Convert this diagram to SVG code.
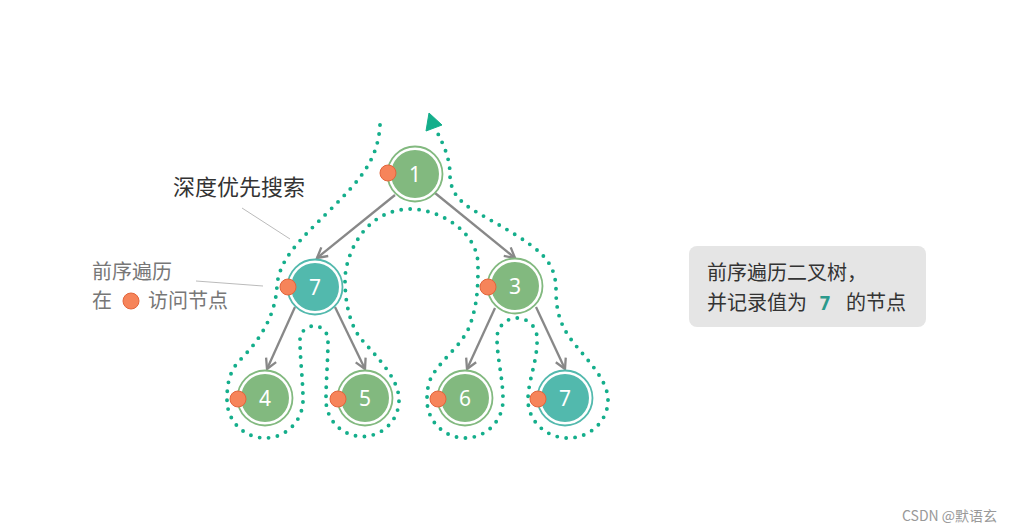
<svg xmlns="http://www.w3.org/2000/svg" width="1016" height="532" viewBox="0 0 1016 532">
<defs>
<style>
.ring-g{fill:#fff;stroke:#82b97f;stroke-width:1.8}
.fill-g{fill:#82b97f}
.ring-t{fill:#fff;stroke:#52b9ad;stroke-width:1.8}
.fill-t{fill:#52b9ad}
.num{font-family:"Noto Sans","Open Sans",sans-serif;font-size:21px;fill:#fff;text-anchor:middle}
.visit{fill:#f6845a;stroke:#e3653c;stroke-width:1}
.edge{stroke:#888;stroke-width:2.3;fill:none}
.cjk{font-family:"Noto Sans CJK SC",sans-serif}
.lead{stroke:#bbb;stroke-width:1;fill:none}
</style>
<marker id="arr" viewBox="-12 -7 14 14" markerWidth="14" markerHeight="14" refX="0" refY="0" orient="auto" markerUnits="userSpaceOnUse">
<path d="M-10,-5.5 L0,0 L-10,5.5" fill="none" stroke="#888" stroke-width="2.3" stroke-linejoin="miter"/>
</marker>
</defs>
<rect width="1016" height="532" fill="#fff"/>

<g id="connectors">
<line class="edge" x1="395" y1="195" x2="317" y2="258" marker-end="url(#arr)"/>
<line class="edge" x1="435" y1="193" x2="515" y2="258" marker-end="url(#arr)"/>
<line class="edge" x1="295" y1="307" x2="267" y2="369" marker-end="url(#arr)"/>
<line class="edge" x1="335" y1="307" x2="365" y2="369" marker-end="url(#arr)"/>
<line class="edge" x1="495" y1="308" x2="467" y2="369" marker-end="url(#arr)"/>
<line class="edge" x1="536" y1="307" x2="565" y2="369" marker-end="url(#arr)"/>
</g>

<g id="traversal">
<path d="M380,125 C378,160 360,180 330,210 C300,240 280,258 277,285 C276,315 260,340 240,360 C228,372 227,388 227,400 A38,38 0 0 0 303,400 C303,380 300,360 300,340 A14,14 0 0 1 328,340 C328,360 326,380 326,400 A36.5,36.5 0 0 0 399,400 C399,378 375,355 362,340 C349,325 345,300 345,280 C345,258 362,210 410,209 C440,209 478,232 478,265 C478,290 477,305 470,325 C463,345 440,360 431,378 C428,384 427,392 427,400 A38,38 0 0 0 503,400 C503,378 497,358 497,338 A20,20 0 0 1 537,338 C538,360 528,380 528,400 A40,38 0 0 0 608,400 C608,378 582,355 570,338 C560,324 556,310 556,290 C556,270 548,258 532,246 C512,231 482,216 470,208 C458,200 450,190 450,175 C450,160 445,147 436,130" fill="none" stroke="#14ae8b" stroke-width="3.9" stroke-linecap="round" stroke-dasharray="0 9"/>
<polygon points="429,113 426,131 442,125" fill="#14ae8b" stroke="#14ae8b" stroke-width="1" stroke-linejoin="round"/>
</g>

<g id="node-1">
<circle class="ring-g" cx="415" cy="174" r="27.5"/>
<circle class="fill-g" cx="415" cy="174" r="24"/>
<text class="num" x="415" y="181.5">1</text>
<circle class="visit" cx="388" cy="173" r="8"/>
</g>
<g id="node-7a">
<circle class="ring-t" cx="315" cy="287" r="27.5"/>
<circle class="fill-t" cx="315" cy="287" r="24"/>
<text class="num" x="315" y="294.5">7</text>
<circle class="visit" cx="288" cy="287" r="8"/>
</g>
<g id="node-3">
<circle class="ring-g" cx="515" cy="286" r="27.5"/>
<circle class="fill-g" cx="515" cy="286" r="24"/>
<text class="num" x="515" y="293.5">3</text>
<circle class="visit" cx="488" cy="287" r="8"/>
</g>
<g id="node-4">
<circle class="ring-g" cx="265" cy="398" r="27.5"/>
<circle class="fill-g" cx="265" cy="398" r="24"/>
<text class="num" x="265" y="405.5">4</text>
<circle class="visit" cx="238" cy="399" r="8"/>
</g>
<g id="node-5">
<circle class="ring-g" cx="365" cy="398" r="27.5"/>
<circle class="fill-g" cx="365" cy="398" r="24"/>
<text class="num" x="365" y="405.5">5</text>
<circle class="visit" cx="338" cy="399" r="8"/>
</g>
<g id="node-6">
<circle class="ring-g" cx="465" cy="398" r="27.5"/>
<circle class="fill-g" cx="465" cy="398" r="24"/>
<text class="num" x="465" y="405.5">6</text>
<circle class="visit" cx="438" cy="399" r="8"/>
</g>
<g id="node-7b">
<circle class="ring-t" cx="565" cy="398" r="27.5"/>
<circle class="fill-t" cx="565" cy="398" r="24"/>
<text class="num" x="565" y="405.5">7</text>
<circle class="visit" cx="538" cy="399" r="8"/>
</g>

<g id="label-dfs">
<text class="cjk" x="173" y="195" font-size="22" fill="#333">深度优先搜索</text>
<line class="lead" x1="242" y1="208" x2="290" y2="239"/>
</g>
<g id="label-preorder">
<text class="cjk" x="92" y="279" font-size="20" fill="#777">前序遍历</text>
<text class="cjk" x="92" y="308" font-size="20" fill="#777">在</text>
<circle class="visit" cx="131" cy="301" r="8"/>
<text class="cjk" x="148" y="308" font-size="20" fill="#777">访问节点</text>
<line class="lead" x1="196" y1="281" x2="263" y2="286"/>
</g>

<g id="note">
<rect x="689" y="246" width="237" height="81" rx="8" fill="#e5e5e5"/>
<text class="cjk" x="707" y="280" font-size="20" fill="#333">前序遍历二叉树，</text>
<text class="cjk" x="707" y="310" font-size="20" fill="#333">并记录值为</text>
<text x="825" y="310" font-size="20" font-weight="bold" fill="#2b9a8c" text-anchor="middle" font-family="DejaVu Sans Mono,monospace">7</text>
<text class="cjk" x="846" y="310" font-size="20" fill="#333">的节点</text>
</g>

<text class="cjk" x="902" y="521" font-size="14" fill="#999">CSDN @默语玄</text>
</svg>
